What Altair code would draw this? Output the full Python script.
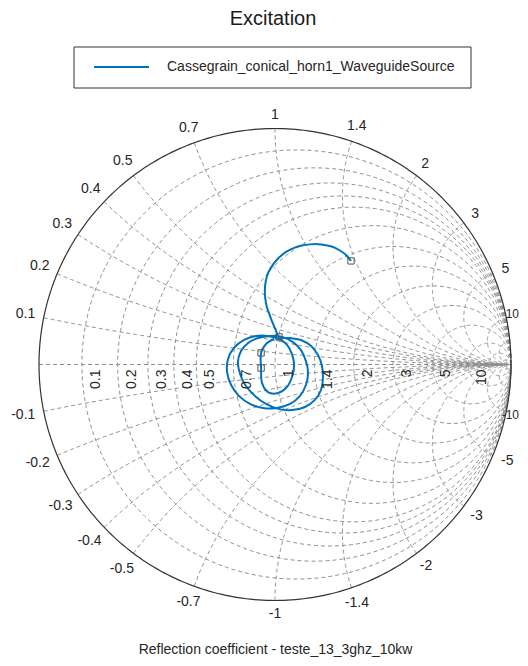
import numpy as np
import pandas as pd
import altair as alt

TITLE = "Excitation"
SERIES = "Cassegrain_conical_horn1_WaveguideSource"
XLABEL = "Reflection coefficient - teste_13_3ghz_10kw"

gamma_re = [0.322, 0.301, 0.275, 0.246, 0.216, 0.182, 0.148, 0.114, 0.081, 0.047, 0.017,
            -0.008, -0.028, -0.039, -0.043, -0.041, -0.034, -0.022, -0.010, 0.003, 0.017,
            0.064, 0.110, 0.153, 0.182, 0.199, 0.203, 0.195, 0.169, 0.127, 0.072, 0.017,
            -0.038, -0.085, -0.123, -0.148, -0.157, -0.144, -0.114, -0.072, -0.021,
            0.030, 0.076, 0.110, 0.131, 0.140, 0.131, 0.106, 0.064, 0.008, -0.051, -0.106,
            -0.153, -0.186, -0.203, -0.199, -0.174, -0.131, -0.081, -0.030,
            0.017, 0.051, 0.072, 0.081, 0.072, 0.051, 0.013, -0.030, -0.055, -0.059, -0.059,
            -0.038, -0.004]
gamma_im = [0.439, 0.464, 0.483, 0.498, 0.505, 0.510, 0.509, 0.504, 0.494, 0.477, 0.453,
            0.424, 0.390, 0.354, 0.316, 0.278, 0.242, 0.208, 0.176, 0.146, 0.117,
            0.112, 0.104, 0.078, 0.040, -0.006, -0.057, -0.108, -0.150, -0.180, -0.193, -0.189,
            -0.167, -0.133, -0.091, -0.040, 0.011, 0.057, 0.091, 0.112, 0.121,
            0.117, 0.095, 0.061, 0.015, -0.036, -0.087, -0.133, -0.167, -0.184, -0.184, -0.167,
            -0.133, -0.087, -0.032, 0.023, 0.070, 0.104, 0.121, 0.121,
            0.108, 0.083, 0.044, -0.002, -0.053, -0.095, -0.121, -0.117, -0.078, -0.015, 0.049,
            0.087, 0.108]
marker_idx = [0, 20, 69, 70]

# Smith chart grid values and labels
resistance_values = [0.1, 0.2, 0.3, 0.4, 0.5, 0.7, 1, 1.4, 2, 3, 5, 10]
resistance_labels = ["0.1", "0.2", "0.3", "0.4", "0.5", "0.7", "1", "1.4", "2", "3", "5", "10"]
reactance_values = [0.1, 0.2, 0.3, 0.4, 0.5, 0.7, 1, 1.4, 2, 3, 5, 10]
reactance_labels = ["0.1", "0.2", "0.3", "0.4", "0.5", "0.7", "1", "1.4", "2", "3", "5", "10"]
extra_grid_values = [20, 50]

PX = 236.0  # pixels per unit of reflection coefficient
FS = 14
RIGHT_LIMIT = (519 - 275) / PX  # keep rim labels inside the page width

# ---------- grid geometry ----------
rows = []
gid = 0
t = np.linspace(0, 2 * np.pi, 361)
for r in resistance_values + extra_grid_values:
    c, rad = r / (1 + r), 1 / (1 + r)
    for k, tt in enumerate(t):
        rows.append((gid, k, c + rad * np.cos(tt), rad * np.sin(tt)))
    gid += 1
for xv in reactance_values + extra_grid_values:
    pe = np.arctan2((xv * xv - 1) / (xv * (xv * xv + 1)), -2 / (xv * xv + 1)) % (2 * np.pi)
    ph = np.linspace(pe, 1.5 * np.pi, 240)
    for s in (1, -1):
        for k, p in enumerate(ph):
            rows.append((gid, k, 1 + np.cos(p) / xv, s * (1 / xv + np.sin(p) / xv)))
        gid += 1
rows.append((gid, 0, -1.0, 0.0))
rows.append((gid, 1, 1.0, 0.0))
grid_df = pd.DataFrame(rows, columns=["gid", "k", "u", "v"])

outer_df = pd.DataFrame({"k": np.arange(len(t)), "u": np.cos(t), "v": np.sin(t)})

trace_df = pd.DataFrame({"i": np.arange(len(gamma_re)), "u": gamma_re, "v": gamma_im,
                         "series": SERIES})
mark_df = trace_df.iloc[marker_idx]


def text_w(s, fs):
    w = {".": 0.278, "-": 0.333}
    return sum(w.get(ch, 0.556) for ch in s) * fs


xl = []
for xv, lab in zip(reactance_values, reactance_labels):
    for s in (1, -1):
        x = s * xv
        gx, gy = (x * x - 1) / (x * x + 1), 2 * x / (x * x + 1)
        txt = lab if s > 0 else "-" + lab
        fs = FS
        hw = text_w(txt, fs) / 2
        off = (8 + abs(gx) * hw + abs(gy) * 5) / PX
        u = gx * (1 + off)
        if u + hw / PX > RIGHT_LIMIT:  # shrink labels that would run off the page
            fs = 12
            hw = text_w(txt, fs) / 2
            u = RIGHT_LIMIT - hw / PX
        xl.append((u, gy * (1 + off), txt, fs))
xlab_df = pd.DataFrame(xl, columns=["u", "v", "txt", "fs"])

rlab_df = pd.DataFrame({"u": [(r - 1) / (r + 1) for r in resistance_values],
                        "v": 0.0, "txt": resistance_labels})

# ---------- scales ----------
xs = alt.Scale(domain=[-1.13136, 1.03814], nice=False, zero=False)
ys = alt.Scale(domain=[-1.24364, 1.51059], nice=False, zero=False)
xaxis = alt.Axis(title=XLABEL, labels=False, ticks=False, domain=False, grid=False,
                 titleX=267, titleY=-9, titleAlign="center", titleBaseline="middle",
                 titleFontSize=14, titleFontWeight="normal", titleFont="Liberation Sans",
                 titleColor="#262626")
yaxis = alt.Axis(title=TITLE, labels=False, ticks=False, domain=False, grid=False,
                 titleAngle=0, titleX=264.5, titleY=10, titleAlign="center",
                 titleBaseline="middle", titleFontSize=20, titleFontWeight="normal",
                 titleFont="Liberation Sans", titleColor="#1a1a1a")


def X():
    return alt.X("u:Q", scale=xs, axis=xaxis)


def Y():
    return alt.Y("v:Q", scale=ys, axis=yaxis)


grid = alt.Chart(grid_df).mark_line(color="#8f8f8f", strokeWidth=1, strokeDash=[4, 3]).encode(
    x=X(), y=Y(), detail="gid:N", order="k:Q")
outer = alt.Chart(outer_df).mark_line(color="#333333", strokeWidth=1.2).encode(
    x=X(), y=Y(), order="k:Q")
trace = alt.Chart(trace_df).mark_line(color="#0072BD", strokeWidth=2,
                                      interpolate="catmull-rom").encode(
    x=X(), y=Y(), order="i:Q")
marks = alt.Chart(mark_df).mark_point(shape="square", filled=False, size=40,
                                      color="#555555", strokeWidth=1, opacity=1).encode(
    x=X(), y=Y())
xlabels = alt.Chart(xlab_df).mark_text(font="Liberation Sans", color="#262626",
                                       align="center", baseline="middle").encode(
    x=X(), y=Y(), text="txt:N", size=alt.Size("fs:Q", scale=None, legend=None))
rlabels = alt.Chart(rlab_df).mark_text(fontSize=FS, font="Liberation Sans", color="#262626",
                                       angle=270, align="right", baseline="top",
                                       dx=-5, dy=7).encode(
    x=X(), y=Y(), text="txt:N")

leg_df = pd.DataFrame({"series": [SERIES]})
leg_box = alt.Chart(leg_df).mark_rect(fill="white", stroke="#333333", strokeWidth=1).encode(
    x=alt.value(66), x2=alt.value(463), y=alt.value(39), y2=alt.value(80))
leg_line = alt.Chart(leg_df).mark_rule(color="#0072BD", strokeWidth=2).encode(
    x=alt.value(86), x2=alt.value(141), y=alt.value(59))
leg_text = alt.Chart(leg_df).mark_text(fontSize=FS, font="Liberation Sans", color="#262626",
                                       align="left", baseline="middle").encode(
    x=alt.value(159), y=alt.value(59), text="series:N")

chart = alt.layer(grid, outer, trace, marks, xlabels, rlabels, leg_box, leg_line, leg_text).properties(
    width=512, height=650,
    autosize=alt.AutoSizeParams(type="none"),
    padding=0,
).configure_view(stroke=None)

chart.save("out.html", embed_options={"renderer": "svg", "actions": False})
